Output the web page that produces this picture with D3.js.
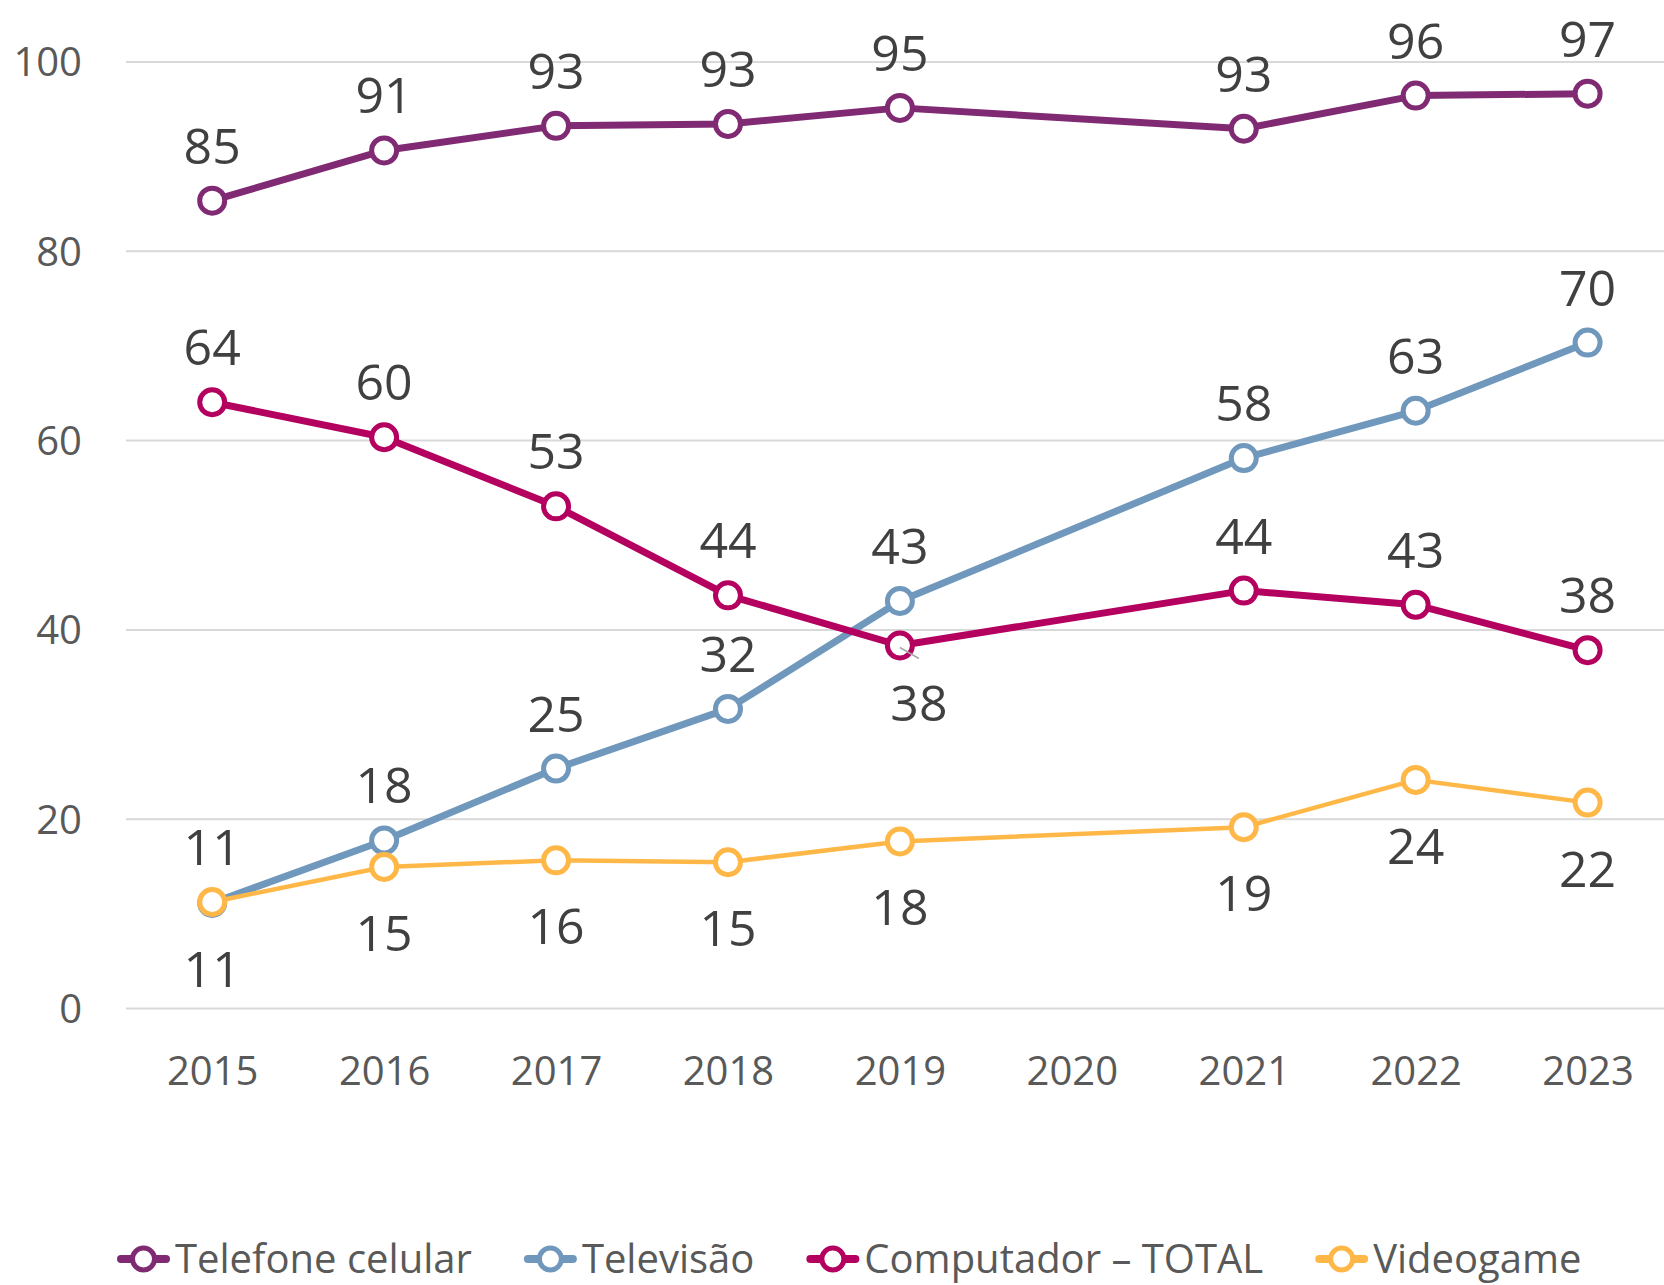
<!DOCTYPE html>
<html><head><meta charset="utf-8">
<script src="https://cdn.jsdelivr.net/npm/d3@7"></script>
<style>
html,body{margin:0;padding:0;background:#fff;}
svg{display:block;}
text{font-family:"Open Sans","Noto Sans",sans-serif;}
</style></head>
<body>
<svg id="chart" width="1664" height="1285"></svg>
<script>
// ---- data ----
const years = ["2015","2016","2017","2018","2019","2020","2021","2022","2023"];
const celular    = [85.3, 90.6, 93.2, 93.4, 95.1, null, 92.9, 96.4, 96.6];
const televisao  = [11.1, 17.7, 25.3, 31.6, 43.0, null, 58.1, 63.1, 70.3];
const computador = [64.0, 60.3, 53.0, 43.6, 38.3, null, 44.1, 42.6, 37.8];
const videogame  = [11.2, 14.9, 15.6, 15.4, 17.6, null, 19.1, 24.1, 21.7];
const seriesNames = ["Telefone celular", "Televisão", "Computador – TOTAL", "Videogame"];
const yTicks = [0, 20, 40, 60, 80, 100];

// ---- styling / layout ----
const W = 1664, H = 1285;
const colors = ["#812A74", "#6F98BC", "#B4005F", "#FFB847"];
const lineWidths = [7, 7, 7, 4.5];
// label placement per point: "a" above, "b" below
const placement = [
  ["a","a","a","a","a",null,"a","a","a"],
  ["b","a","a","a","a",null,"a","a","a"],
  ["a","a","a","a","b",null,"a","a","a"],
  ["a","b","b","b","b",null,"b","b","b"]
];
const seriesValues = [celular, televisao, computador, videogame];

const svg = d3.select("#chart");
const x = d3.scalePoint().domain(years).range([212.2, 1587.6]);
const y = d3.scaleLinear().domain([0, 100]).range([1008, 61.5]);
const plotLeft = 126;

// gridlines + y axis labels
const yAxis = d3.axisLeft(y).tickValues(yTicks).tickSize(-(W - plotLeft)).tickPadding(44).tickFormat(d3.format("d"));
const gy = svg.append("g").attr("transform", `translate(${plotLeft},0)`).call(yAxis);
gy.select(".domain").remove();
gy.selectAll(".tick line").attr("stroke", "#D9D9D9").attr("stroke-width", 2);
gy.selectAll(".tick text").attr("fill", "#595959").attr("font-size", 40).attr("dy", "0.36em");

// x axis labels
const xAxis = d3.axisBottom(x).tickSize(0).tickPadding(49);
const gx = svg.append("g").attr("transform", `translate(0,${y(0)})`).call(xAxis);
gx.select(".domain").remove();
gx.selectAll(".tick text").attr("fill", "#595959").attr("font-size", 40);

// series
const lineGen = d3.line().x(d => x(d.year)).y(d => y(d.value));
seriesValues.forEach((vals, i) => {
  const pts = years.map((yr, j) => ({year: yr, value: vals[j]})).filter(d => d.value != null);
  const g = svg.append("g");
  g.append("path").datum(pts).attr("d", lineGen)
    .attr("fill", "none").attr("stroke", colors[i]).attr("stroke-width", lineWidths[i])
    .attr("stroke-linejoin", "round").attr("stroke-linecap", "round");
  g.selectAll("circle").data(pts).join("circle")
    .attr("cx", d => x(d.year)).attr("cy", d => y(d.value)).attr("r", 12.5)
    .attr("fill", "#fff").attr("stroke", colors[i]).attr("stroke-width", 5);
});

// leader line for the shifted label (Computador 2019)
const lx = x("2019"), ly = y(computador[4]);
svg.append("line").attr("x1", lx).attr("y1", ly + 2).attr("x2", lx + 19).attr("y2", ly + 13)
  .attr("stroke", "#A6A6A6").attr("stroke-width", 1.5);

// data labels
const fmt = d3.format(".0f");
seriesValues.forEach((vals, i) => {
  years.forEach((yr, j) => {
    const v = vals[j];
    if (v == null) return;
    const pos = placement[i][j];
    let tx = x(yr), ty = pos === "a" ? y(v) - 37 : y(v) + 84;
    if (i === 2 && yr === "2019") { tx += 19; ty = y(v) + 76; }
    svg.append("text").attr("x", tx).attr("y", ty).attr("text-anchor", "middle")
      .attr("font-size", 50).attr("fill", "#404040").text(fmt(v));
  });
});

// legend
const legY = 1259;
let cx = 117;
seriesNames.forEach((name, i) => {
  const g = svg.append("g");
  g.append("line").attr("x1", cx + 4).attr("x2", cx + 49).attr("y1", legY).attr("y2", legY)
    .attr("stroke", colors[i]).attr("stroke-width", 8).attr("stroke-linecap", "round");
  g.append("circle").attr("cx", cx + 26.5).attr("cy", legY).attr("r", 11)
    .attr("fill", "#fff").attr("stroke", colors[i]).attr("stroke-width", 5);
  const t = g.append("text").attr("x", cx + 58).attr("y", legY + 14).attr("font-size", 40)
    .attr("fill", "#595959").text(name);
  const w = t.node().getComputedTextLength();
  cx = cx + 58 + w + 52;
});
</script>
</body></html>
